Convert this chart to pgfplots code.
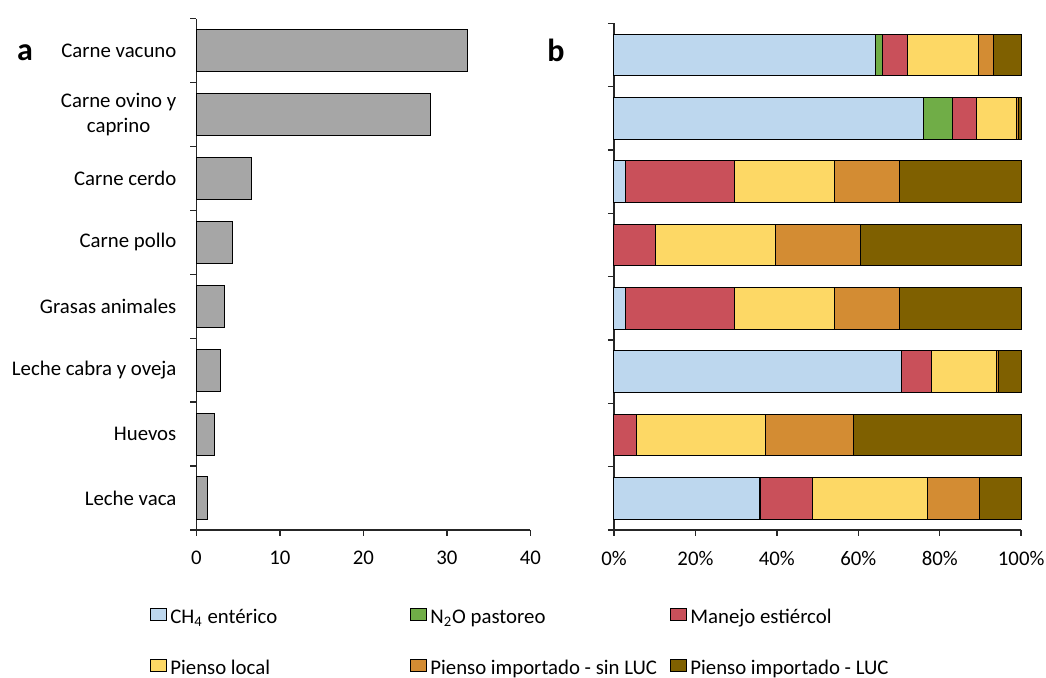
\documentclass[border=0pt]{standalone}
\usepackage{pgfplots}
\pgfplotsset{compat=1.18}
\usepackage{fontspec}
\setmainfont{Carlito}
\definecolor{cCH}{HTML}{BDD7EE}
\definecolor{cNO}{HTML}{70AD47}
\definecolor{cMan}{HTML}{C9505A}
\definecolor{cLoc}{HTML}{FDD865}
\definecolor{cImp}{HTML}{D38C33}
\definecolor{cLUC}{HTML}{7F6000}
\definecolor{cGray}{HTML}{A6A6A6}
\newcommand{\fs}{\fontsize{10.4}{12.5}\selectfont}
\begin{document}
\begin{tikzpicture}
\path[use as bounding box] (-98.2pt,-74pt) rectangle (424.8pt,265pt);
\pgfplotsset{
  common/.style={
    scale only axis,
    /pgf/number format/assume math mode=true,
    axis lines*=left,
    tick align=outside,
    major tick length=3pt,
    minor tick length=3pt,
    axis line style={line width=0.7pt, draw=black!85},
    tick style={line width=0.7pt, draw=black!85},
    tick label style={font=\fs},
    xticklabel style={yshift=-4pt},
    ymin=-0.5, ymax=7.5,
    clip=false,
  }
}
\begin{axis}[common, at={(0,0)}, anchor=south west,
  width=167pt, height=255.7pt,
  xbar, bar width=0.66,
  xmin=0, xmax=40, xtick={0,10,20,30,40},
  ytick={0,...,7},
  yticklabels={Leche vaca, Huevos, Leche cabra y oveja, Grasas animales, Carne pollo, Carne cerdo, {Carne ovino y\\caprino}, Carne vacuno},
  yticklabel style={align=center, xshift=-3.5pt},
  every major y tick/.append style={draw=none},
  minor ytick={-0.5,0.5,...,7.5},
]
\addplot[fill=cGray, draw=black, line width=0.5pt] coordinates {
 (1.35,0) (2.15,1) (2.9,2) (3.35,3) (4.3,4) (6.6,5) (28.05,6) (32.5,7)};
\node[font=\bfseries\fontsize{16}{19}\selectfont] at (axis description cs:-0.513,0.933) {a};
\end{axis}
\begin{axis}[common, at={(208.8pt,0)}, anchor=south west,
  width=203.6pt, height=253.3pt,
  xbar stacked, bar width=0.66,
  xmin=0, xmax=100, xtick={0,20,...,100},
  xticklabel={\pgfmathprintnumber{\tick}\%},
  ytick={-0.5,0.5,...,7.5}, yticklabel=\empty,
  legend columns=3,
  legend cell align=left,
  area legend/.style={legend image code/.code={\draw[##1,line width=0.5pt,draw=black] (0pt,-2.75pt) rectangle (5.5pt,2.75pt);}},
  legend style={draw=none, fill=none, at={(-1.1395,-0.149)}, anchor=north west,
    column sep=0pt, row sep=15.5pt, inner sep=0pt, font=\fs,
    nodes={inner xsep=1.5pt, inner ysep=0pt}},
]
\addplot[fill=cCH, draw=black, line width=0.5pt] coordinates {
 (35.7,0) (0,1) (70.6,2) (2.8,3) (0,4) (2.8,5) (76.0,6) (64.1,7)};
\addlegendentry{\makebox[118.5pt][l]{\strut CH\textsubscript{4} entérico}}
\addplot[fill=cNO, draw=black, line width=0.5pt] coordinates {
 (0.3,0) (0,1) (0,2) (0,3) (0,4) (0,5) (7.1,6) (1.8,7)};
\addlegendentry{\makebox[118.5pt][l]{\strut N\textsubscript{2}O pastoreo}}
\addplot[fill=cMan, draw=black, line width=0.5pt] coordinates {
 (12.8,0) (5.5,1) (7.4,2) (26.8,3) (10.1,4) (26.8,5) (5.9,6) (6.1,7)};
\addlegendentry{\makebox[118.5pt][l]{\strut Manejo estiércol}}
\addplot[fill=cLoc, draw=black, line width=0.5pt] coordinates {
 (28.1,0) (31.8,1) (16.0,2) (24.6,3) (29.5,4) (24.6,5) (9.9,6) (17.6,7)};
\addlegendentry{\makebox[118.5pt][l]{\strut Pienso local}}
\addplot[fill=cImp, draw=black, line width=0.5pt] coordinates {
 (12.9,0) (21.5,1) (0.5,2) (15.9,3) (20.9,4) (15.9,5) (0.5,6) (3.7,7)};
\addlegendentry{\makebox[118.5pt][l]{\strut Pienso importado - sin LUC}}
\addplot[fill=cLUC, draw=black, line width=0.5pt] coordinates {
 (10.2,0) (41.2,1) (5.5,2) (29.9,3) (39.5,4) (29.9,5) (0.6,6) (6.7,7)};
\addlegendentry{\makebox[118.5pt][l]{\strut Pienso importado - LUC}}
\node[font=\bfseries\fontsize{16}{19}\selectfont] at (axis description cs:-0.1424,0.9475) {b};
\end{axis}
\end{tikzpicture}
\end{document}
